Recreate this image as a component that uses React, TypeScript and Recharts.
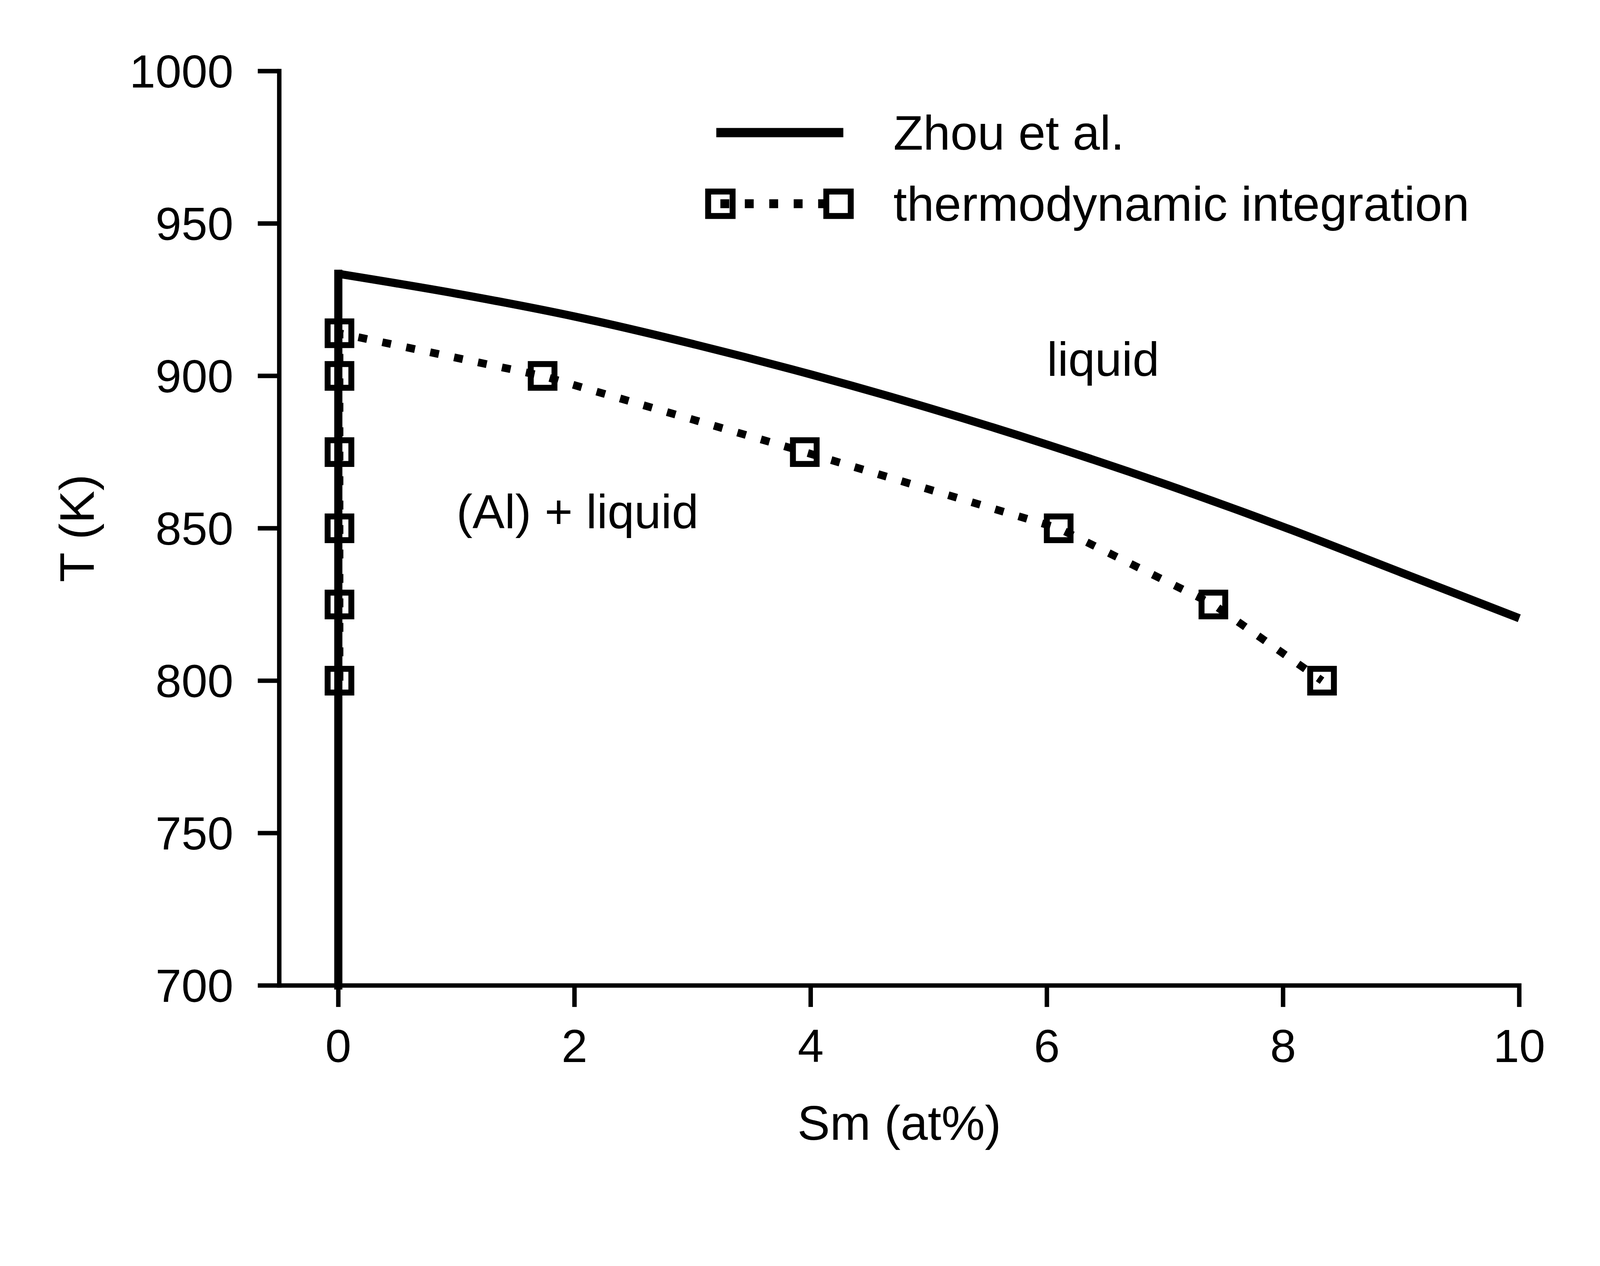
import React from "react";
import { LineChart, Line, XAxis, YAxis, Legend, ReferenceDot } from "recharts";

// Zhou et al.: solidus at x = 0 and liquidus
const SOLIDUS_X = [0, 0];
const SOLIDUS_T = [700, 933.5];
const LIQUIDUS_X = [0, 1, 2, 3, 4, 5, 6, 7, 8, 9, 10];
const LIQUIDUS_T = [933.5, 927, 919.5, 910.5, 900.5, 889.5, 877.5, 864.5, 850.5, 835.5, 820.5];

// thermodynamic integration points
const TI_X = [0.01, 0.01, 0.01, 0.01, 0.01, 0.01, 1.73, 3.95, 6.1, 7.41, 8.33];
const TI_T = [800, 825, 850, 875, 900, 914, 900, 875, 850, 825, 800];

const X_TICKS = [0, 2, 4, 6, 8, 10];
const Y_TICKS = [700, 750, 800, 850, 900, 950, 1000];
const X_DOMAIN = [-0.5, 10];
const Y_DOMAIN = [700, 1000];

const SERIES_NAMES = ["Zhou et al.", "thermodynamic integration"];

const ANNOT_TEXT = ["liquid", "(Al) + liquid"];
const ANNOT_X = [6, 1];
const ANNOT_T = [900, 850];

const solidusData = SOLIDUS_X.map((x, i) => ({ x, t: SOLIDUS_T[i] }));
const liquidusData = LIQUIDUS_X.map((x, i) => ({ x, t: LIQUIDUS_T[i] }));
const tiData = TI_X.map((x, i) => ({ x, t: TI_T[i] }));

const FONT = "'Liberation Sans', Arial, Helvetica, sans-serif";
const W = 4320;
const H = 3240;
const PLOT_LEFT = 754;
const PLOT_RIGHT = 4102;
const PLOT_TOP = 192;
const PLOT_BOTTOM = 2660;
const Y_AXIS_W = 400;
const X_AXIS_H = 400;

const axisStroke = { stroke: "#000", strokeWidth: 12, strokeLinecap: "square" as const };
const tickStroke = { stroke: "#000", strokeWidth: 12 };
const tickFont = { fontSize: 126, fill: "#000", fontFamily: FONT };

const SquareDot = (props: any) => {
  const { cx, cy } = props;
  if (cx == null || cy == null) return null;
  return (
    <rect x={cx - 32} y={cy - 32} width={64} height={64} fill="none" stroke="#000" strokeWidth={16} />
  );
};

const renderLegend = (props: any) => {
  const items = (props.payload || []).filter((e: any) => SERIES_NAMES.indexOf(e.value) >= 0);
  const payload = items.length ? items : SERIES_NAMES.map((value) => ({ value }));
  return (
    <svg width={2400} height={340} style={{ overflow: "visible", display: "block" }}>
      {payload.map((entry: any) => {
        const row = SERIES_NAMES.indexOf(entry.value);
        const y = row === 0 ? 78 : 270;
        return (
          <g key={entry.value}>
            {row === 0 ? (
              <line x1={54} x2={397} y1={y} y2={y} stroke="#000" strokeWidth={25} />
            ) : (
              <g>
                <line x1={65} x2={384} y1={y} y2={y} stroke="#000" strokeWidth={24} strokeDasharray="24 42" />
                <rect x={65 - 33} y={y - 33} width={66} height={66} fill="none" stroke="#000" strokeWidth={16} />
                <rect x={384 - 33} y={y - 33} width={66} height={66} fill="none" stroke="#000" strokeWidth={16} />
              </g>
            )}
            <text x={532} y={y} dy="0.35em" fontSize={132} fontFamily={FONT} fill="#000">
              {entry.value}
            </text>
          </g>
        );
      })}
    </svg>
  );
};

export default function App() {
  const vw = typeof window !== "undefined" ? window.innerWidth : W;
  const vh = typeof window !== "undefined" ? window.innerHeight : H;
  const s = Math.min(vw / W, vh / H, 1);
  const plotCx = (PLOT_LEFT + PLOT_RIGHT) / 2;
  const plotCy = (PLOT_TOP + PLOT_BOTTOM) / 2;
  return (
    <div style={{ position: "fixed", left: 0, top: 0, width: vw, height: vh, overflow: "hidden", background: "#fff" }}>
      <div style={{ width: W, height: H, transform: `scale(${s})`, transformOrigin: "0 0", background: "#fff" }}>
        <LineChart
          width={W}
          height={H}
          margin={{
            top: PLOT_TOP,
            right: W - PLOT_RIGHT,
            left: PLOT_LEFT - Y_AXIS_W,
            bottom: H - PLOT_BOTTOM - X_AXIS_H,
          }}
        >
          <XAxis
            dataKey="x"
            type="number"
            domain={X_DOMAIN}
            ticks={X_TICKS}
            height={X_AXIS_H}
            tickSize={58}
            tickMargin={59}
            axisLine={axisStroke}
            tickLine={tickStroke}
            tick={tickFont}
            label={{
              content: () => (
                <text x={plotCx} y={3030} dy="0.35em" textAnchor="middle" fontSize={132} fontFamily={FONT} fill="#000">
                  Sm (at%)
                </text>
              ),
            }}
          />
          <XAxis
            xAxisId="top"
            orientation="top"
            type="number"
            domain={X_DOMAIN}
            height={0}
            tick={false}
            tickLine={false}
            axisLine={axisStroke}
          />
          <YAxis
            type="number"
            domain={Y_DOMAIN}
            ticks={Y_TICKS}
            width={Y_AXIS_W}
            tickSize={58}
            tickMargin={66}
            axisLine={axisStroke}
            tickLine={tickStroke}
            tick={tickFont}
            label={{
              content: () => (
                <text
                  x={207}
                  y={plotCy}
                  dy="0.35em"
                  textAnchor="middle"
                  transform={`rotate(-90 207 ${plotCy})`}
                  fontSize={132}
                  fontFamily={FONT}
                  fill="#000"
                >
                  T (K)
                </text>
              ),
            }}
          />
          <YAxis
            yAxisId="right"
            orientation="right"
            type="number"
            domain={Y_DOMAIN}
            width={0}
            tick={false}
            tickLine={false}
            axisLine={axisStroke}
          />
          <Legend
            layout="horizontal"
            verticalAlign="middle"
            align="center"
            content={renderLegend}
            wrapperStyle={{ left: 1880, top: 280, width: 2400, height: 340 }}
          />
          <Line
            data={solidusData}
            dataKey="t"
            name="solidus"
            legendType="none"
            type="linear"
            stroke="#000"
            strokeWidth={22}
            strokeLinecap="square"
            dot={false}
            activeDot={false}
            isAnimationActive={false}
          />
          <Line
            data={liquidusData}
            dataKey="t"
            name={SERIES_NAMES[0]}
            type="monotone"
            stroke="#000"
            strokeWidth={22}
            dot={false}
            activeDot={false}
            isAnimationActive={false}
          />
          <Line
            data={tiData}
            dataKey="t"
            name={SERIES_NAMES[1]}
            type="linear"
            stroke="#000"
            strokeWidth={21}
            strokeDasharray="24 42"
            dot={(p: any) => <SquareDot key={`sq-${p.index}`} {...p} />}
            activeDot={false}
            isAnimationActive={false}
          />
          {ANNOT_TEXT.map((txt, i) => (
            <ReferenceDot
              key={txt}
              x={ANNOT_X[i]}
              y={ANNOT_T[i]}
              r={1}
              shape={(p: any) => (
                <text x={p.cx} y={p.cy} fontSize={130} fontFamily={FONT} fill="#000">
                  {txt}
                </text>
              )}
            />
          ))}
        </LineChart>
      </div>
    </div>
  );
}
